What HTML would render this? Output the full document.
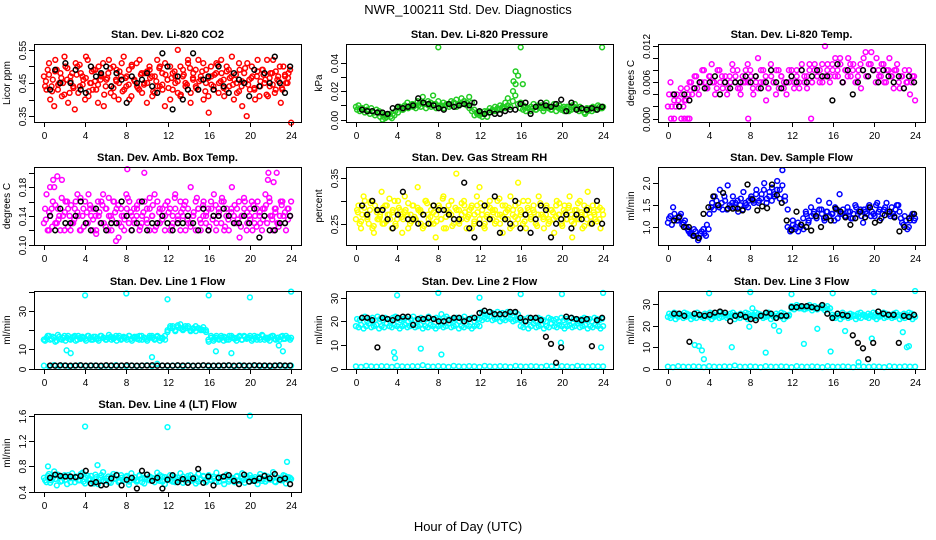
<!DOCTYPE html>
<html><head><meta charset="utf-8">
<style>
html,body{margin:0;padding:0;background:#fff;}
svg{display:block;font-family:"Liberation Sans",sans-serif;}
</style></head>
<body>
<svg id="chart" width="936" height="540" viewBox="0 0 936 540" xmlns="http://www.w3.org/2000/svg">
<rect width="936" height="540" fill="#fff"/>
<text x="468" y="14" text-anchor="middle" font-size="13">NWR_100211  Std. Dev. Diagnostics</text>
<text x="468" y="531" text-anchor="middle" font-size="13">Hour of Day (UTC)</text>
<g id="panels"></g>
</svg>
<script>
// ---------- data ----------
const xTicks = [0,4,8,12,16,20,24];

const co2Red = [0.47,0.43,0.51,0.44,0.38,0.49,0.45,0.41,0.53,0.46,0.42,0.48,0.37,0.50,0.44,0.47,0.40,0.52,0.45,0.43,0.49,0.39,0.46,0.51,0.44,0.48,0.42,0.50,0.46,0.40,0.47,0.53,0.44,0.49,0.41,0.46,0.51,0.43,0.48,0.45,0.39,0.50,0.47,0.42,0.52,0.44,0.48,0.38,0.46,0.50,0.43,0.47,0.55,0.41,0.49,0.45,0.51,0.42,0.48,0.44,0.52,0.46,0.40,0.49,0.36,0.47,0.43,0.51,0.45,0.48,0.41,0.50,0.44,0.53,0.46,0.42,0.49,0.38,0.45,0.51,0.43,0.47,0.40,0.52,0.44,0.49,0.46,0.41,0.48,0.52,0.43,0.47,0.39,0.50,0.45,0.48,0.33];
const co2Red2 = [0.44,0.49,0.40,0.46,0.52,0.43,0.48,0.45,0.50,0.39,0.47,0.44,0.51,0.42,0.48,0.46,0.53,0.41,0.45,0.49,0.43,0.50,0.47,0.38,0.46,0.52,0.44,0.41,0.49,0.45,0.51,0.43,0.47,0.40,0.50,0.46,0.44,0.52,0.42,0.48,0.45,0.49,0.41,0.47,0.44,0.50,0.43,0.51,0.46,0.40,0.48,0.45,0.42,0.50,0.47,0.44,0.52,0.39,0.46,0.49,0.43,0.47,0.51,0.45,0.41,0.50,0.44,0.48,0.42,0.52,0.46,0.43,0.49,0.47,0.40,0.45,0.51,0.44,0.48,0.35,0.46,0.50,0.43,0.47,0.41,0.49,0.45,0.52,0.44,0.48,0.42,0.46,0.50,0.43,0.47,0.45,0.49];
const co2Red3 = [0.455,0.475,0.425,0.485,0.445,0.465,0.415,0.495,0.455,0.435,0.475,0.505,0.445,0.465,0.425,0.485,0.455,0.445,0.475,0.415,0.465,0.495,0.435,0.455,0.485,0.425,0.465,0.445,0.505,0.455,0.435,0.475,0.445,0.485,0.465,0.425,0.455,0.495,0.445,0.475,0.435,0.465,0.485,0.455,0.415,0.475,0.445,0.495,0.465,0.435,0.455,0.485,0.425,0.465,0.445,0.475,0.505,0.455,0.435,0.485,0.465,0.445,0.475,0.425,0.455,0.495,0.445,0.465,0.435,0.485,0.455,0.475,0.415,0.465,0.445,0.485,0.455,0.435,0.475,0.465];
const co2Black = [0.43,0.49,0.45,0.51,0.45,0.49,0.43,0.42,0.50,0.47,0.48,0.50,0.44,0.48,0.46,0.39,0.47,0.45,0.46,0.48,0.44,0.42,0.54,0.50,0.37,0.47,0.40,0.43,0.54,0.43,0.46,0.47,0.43,0.50,0.44,0.42,0.48,0.46,0.45,0.41,0.49,0.44,0.48,0.45,0.53,0.45,0.42,0.50];

const presGreen = [0.009,0.010,0.008,0.007,0.009,0.006,0.008,0.005,0.007,0.006,0.004,0.003,0.002,0.004,0.001,0.003,0.008,0.009,0.007,0.010,0.012,0.009,0.011,0.010,0.013,0.012,0.016,0.011,0.013,0.012,0.017,0.011,0.013,0.009,0.012,0.010,0.011,0.013,0.012,0.014,0.011,0.015,0.013,0.012,0.016,0.012,0.007,0.005,0.003,0.004,0.006,0.002,0.008,0.006,0.009,0.007,0.010,0.008,0.012,0.015,0.009,0.020,0.025,0.031,0.012,0.010,0.006,0.008,0.009,0.011,0.007,0.009,0.010,0.008,0.012,0.009,0.007,0.011,0.009,0.010,0.008,0.006,0.009,0.007,0.010,0.011,0.008,0.009,0.007,0.004,0.006,0.008,0.009,0.007,0.010,0.008,0.009];
const presGreen2 = [0.007,0.006,0.008,0.005,0.007,0.004,0.006,0.003,0.005,0.002,0.000,0.001,0.003,0.002,0.004,0.006,0.005,0.008,0.007,0.009,0.008,0.010,0.009,0.008,0.010,0.009,0.011,0.008,0.010,0.009,0.011,0.008,0.009,0.010,0.008,0.011,0.009,0.010,0.012,0.009,0.010,0.011,0.013,0.010,0.008,0.006,0.003,0.004,0.005,0.002,0.004,0.006,0.005,0.007,0.006,0.008,0.007,0.009,0.008,0.010,0.009,0.013,0.017,0.011,0.008,0.007,0.009,0.008,0.006,0.008,0.007,0.010,0.008,0.006,0.009,0.008,0.007,0.009,0.006,0.008,0.007,0.009,0.008,0.006,0.007,0.009,0.008,0.006,0.007,0.005,0.008,0.007,0.006,0.008,0.007,0.009,0.008];
const presOutT = [8,16,23.9,15.3,15.5,16.2];
const presOutV = [0.051,0.051,0.051,0.027,0.034,0.025];
const presBlack = [0.007,0.006,0.006,0.005,0.005,0.004,0.008,0.009,0.008,0.009,0.010,0.015,0.012,0.011,0.010,0.008,0.007,0.011,0.009,0.010,0.011,0.010,0.012,0.006,0.004,0.005,0.004,0.004,0.006,0.007,0.007,0.011,0.012,0.004,0.009,0.012,0.010,0.009,0.011,0.014,0.006,0.012,0.007,0.008,0.007,0.008,0.007,0.009];

const tempMag = [0.002,0.006,0.004,0.002,0.003,0.005,0.002,0.003,0.004,0.006,0.005,0.007,0.004,0.006,0.008,0.005,0.007,0.009,0.006,0.005,0.008,0.007,0.006,0.004,0.007,0.009,0.006,0.008,0.005,0.007,0.006,0.009,0.008,0.005,0.007,0.010,0.006,0.008,0.007,0.005,0.009,0.006,0.004,0.008,0.007,0.005,0.006,0.008,0.007,0.005,0.008,0.006,0.009,0.007,0.005,0.008,0.006,0.009,0.007,0.008,0.006,0.012,0.009,0.007,0.008,0.010,0.007,0.009,0.006,0.008,0.010,0.007,0.009,0.006,0.008,0.005,0.010,0.007,0.009,0.011,0.008,0.010,0.007,0.009,0.006,0.008,0.010,0.007,0.008,0.009,0.005,0.007,0.008,0.006,0.004,0.007,0.003];
const tempMag2 = [0.004,0.002,0.003,0.004,0.002,0.004,0.003,0.005,0.006,0.004,0.007,0.005,0.006,0.008,0.006,0.005,0.007,0.006,0.004,0.008,0.006,0.005,0.007,0.005,0.006,0.008,0.007,0.005,0.004,0.006,0.008,0.006,0.007,0.004,0.006,0.005,0.008,0.006,0.003,0.005,0.007,0.006,0.008,0.005,0.007,0.006,0.004,0.006,0.008,0.006,0.007,0.005,0.008,0.006,0.007,0.009,0.006,0.008,0.007,0.006,0.009,0.007,0.008,0.006,0.009,0.007,0.008,0.010,0.006,0.008,0.007,0.009,0.008,0.006,0.007,0.009,0.008,0.011,0.007,0.009,0.008,0.006,0.008,0.007,0.009,0.006,0.008,0.007,0.005,0.008,0.006,0.007,0.005,0.006,0.008,0.006,0.007];
const tempOutT = [0.3,0.6,1.3,1.6,1.9,2.1,7.8,13.9];
const tempOutV = [0,0,0,0,0,0,0,0];
const tempBlack = [0.004,0.002,0.004,0.003,0.005,0.006,0.005,0.006,0.007,0.004,0.006,0.005,0.006,0.006,0.007,0.006,0.007,0.005,0.006,0.008,0.006,0.005,0.006,0.007,0.006,0.008,0.006,0.007,0.008,0.007,0.007,0.003,0.009,0.006,0.008,0.004,0.006,0.008,0.007,0.008,0.006,0.008,0.007,0.006,0.007,0.005,0.007,0.006];

const ambMag = [0.13,0.17,0.12,0.15,0.18,0.13,0.14,0.19,0.12,0.16,0.14,0.13,0.15,0.17,0.12,0.14,0.16,0.13,0.15,0.12,0.14,0.16,0.13,0.17,0.15,0.12,0.14,0.16,0.13,0.11,0.15,0.14,0.17,0.13,0.12,0.15,0.14,0.16,0.13,0.20,0.15,0.12,0.14,0.17,0.13,0.15,0.14,0.12,0.16,0.15,0.13,0.17,0.14,0.12,0.15,0.16,0.13,0.18,0.14,0.12,0.15,0.13,0.16,0.14,0.12,0.15,0.17,0.13,0.14,0.16,0.12,0.15,0.14,0.18,0.13,0.15,0.11,0.14,0.16,0.13,0.15,0.12,0.14,0.16,0.13,0.15,0.17,0.19,0.14,0.12,0.15,0.13,0.16,0.14,0.12,0.15,0.16];
const ambMag2 = [0.15,0.12,0.14,0.16,0.13,0.15,0.12,0.14,0.16,0.15,0.12,0.13,0.16,0.14,0.12,0.15,0.13,0.17,0.14,0.15,0.12,0.14,0.16,0.13,0.15,0.14,0.12,0.16,0.15,0.13,0.14,0.12,0.15,0.16,0.14,0.13,0.15,0.12,0.14,0.16,0.13,0.15,0.14,0.12,0.16,0.13,0.15,0.14,0.16,0.12,0.14,0.15,0.13,0.16,0.14,0.12,0.15,0.13,0.14,0.16,0.15,0.12,0.14,0.13,0.15,0.16,0.14,0.12,0.15,0.13,0.16,0.14,0.12,0.15,0.14,0.13,0.16,0.14,0.15,0.12,0.14,0.16,0.13,0.15,0.14,0.12,0.15,0.13,0.16,0.14,0.15,0.13,0.14,0.16,0.13,0.15,0.14];
const ambMag3 = [0.135,0.145,0.125,0.155,0.135,0.165,0.145,0.125,0.155,0.135,0.145,0.165,0.125,0.145,0.155,0.135,0.115,0.145,0.155,0.125,0.165,0.135,0.145,0.155,0.125,0.135,0.165,0.145,0.135,0.155,0.125,0.145,0.135,0.165,0.155,0.125,0.145,0.135,0.155,0.145,0.125,0.165,0.135,0.145,0.155,0.135,0.125,0.145,0.165,0.135,0.155,0.145,0.125,0.135,0.155,0.145,0.165,0.125,0.135,0.145,0.155,0.135,0.125,0.165,0.145,0.135,0.155,0.125,0.145,0.135,0.155,0.165,0.135,0.145,0.125,0.155,0.145,0.135];
const ambOutT = [0.6,0.9,1.3,7,8.1,21.8,22.3,22.6];
const ambOutV = [0.18,0.19,0.195,0.105,0.205,0.2,0.187,0.2];
const ambBlack = [0.14,0.12,0.15,0.13,0.13,0.14,0.16,0.13,0.12,0.15,0.13,0.12,0.13,0.13,0.16,0.14,0.12,0.13,0.16,0.12,0.13,0.13,0.14,0.13,0.12,0.13,0.13,0.14,0.13,0.12,0.15,0.12,0.14,0.14,0.15,0.14,0.13,0.13,0.14,0.13,0.15,0.11,0.14,0.12,0.12,0.13,0.13,0.14];

const rhYellow = [0.26,0.29,0.24,0.31,0.27,0.25,0.30,0.23,0.28,0.26,0.32,0.25,0.29,0.27,0.24,0.30,0.26,0.28,0.23,0.31,0.27,0.25,0.29,0.26,0.33,0.28,0.24,0.30,0.27,0.25,0.29,0.22,0.28,0.26,0.31,0.24,0.29,0.27,0.25,0.36,0.28,0.26,0.30,0.24,0.27,0.29,0.25,0.31,0.33,0.27,0.24,0.29,0.26,0.28,0.25,0.30,0.27,0.23,0.29,0.26,0.31,0.28,0.25,0.34,0.27,0.30,0.24,0.28,0.26,0.29,0.25,0.31,0.27,0.24,0.29,0.26,0.28,0.23,0.30,0.27,0.25,0.29,0.26,0.31,0.22,0.28,0.26,0.30,0.24,0.27,0.32,0.25,0.29,0.26,0.28,0.24,0.27];
const rhYellow2 = [0.28,0.25,0.27,0.30,0.26,0.28,0.24,0.29,0.26,0.27,0.25,0.29,0.27,0.26,0.28,0.25,0.30,0.27,0.26,0.28,0.24,0.27,0.29,0.26,0.28,0.25,0.27,0.30,0.26,0.28,0.25,0.27,0.29,0.26,0.24,0.28,0.27,0.30,0.26,0.28,0.25,0.27,0.29,0.26,0.28,0.24,0.27,0.29,0.26,0.28,0.25,0.27,0.30,0.26,0.28,0.27,0.25,0.29,0.26,0.28,0.24,0.27,0.29,0.26,0.28,0.25,0.27,0.30,0.26,0.28,0.25,0.27,0.29,0.26,0.27,0.25,0.28,0.26,0.29,0.27,0.25,0.28,0.26,0.29,0.27,0.25,0.28,0.26,0.27,0.29,0.26,0.28,0.25,0.27,0.29,0.26,0.28];
const rhYellow3 = [0.275,0.255,0.285,0.265,0.295,0.245,0.275,0.265,0.285,0.255,0.305,0.275,0.245,0.285,0.265,0.275,0.295,0.255,0.265,0.285,0.275,0.245,0.295,0.265,0.275,0.255,0.285,0.305,0.265,0.275,0.245,0.285,0.255,0.295,0.275,0.265,0.285,0.255,0.275,0.295,0.245,0.265,0.285,0.275,0.255,0.305,0.265,0.275,0.285,0.245,0.265,0.295,0.275,0.255,0.285,0.265,0.275,0.245,0.295,0.265,0.285,0.255,0.275,0.265,0.295,0.245,0.275,0.285,0.255,0.265,0.295,0.275,0.245,0.285,0.265,0.275,0.255,0.285];
const rhBlack = [0.29,0.27,0.30,0.28,0.28,0.26,0.24,0.27,0.32,0.26,0.26,0.25,0.27,0.25,0.29,0.28,0.28,0.27,0.26,0.26,0.34,0.24,0.22,0.25,0.29,0.26,0.31,0.23,0.26,0.25,0.30,0.24,0.27,0.23,0.26,0.29,0.28,0.22,0.25,0.26,0.27,0.24,0.27,0.26,0.28,0.25,0.30,0.25];

const flowBlue = [1.10,1.25,1.45,1.20,1.15,1.30,1.10,1.00,0.90,0.85,0.95,0.80,0.75,0.90,0.85,1.05,1.30,1.55,1.70,1.50,1.85,1.40,1.60,1.95,1.45,1.70,1.55,1.35,1.65,1.80,1.50,1.60,1.70,1.55,1.85,1.60,1.75,2.00,1.65,1.80,1.90,1.70,2.05,1.85,2.30,1.60,1.00,0.90,1.15,0.95,1.10,1.00,1.20,1.35,1.10,1.45,1.30,1.25,1.60,1.40,1.20,1.35,1.55,1.30,1.15,1.40,1.75,1.30,1.25,1.45,1.35,1.20,1.50,1.30,1.40,1.10,1.35,1.45,1.25,1.30,1.50,1.35,1.20,1.40,1.55,1.30,1.45,1.25,1.50,1.35,1.10,1.25,0.95,1.15,1.30,1.20];
const flowBlue2 = [1.20,1.05,1.30,1.15,1.25,1.05,1.15,0.95,0.85,0.80,0.90,0.70,0.85,0.95,0.80,0.95,1.45,1.40,1.60,1.45,1.55,1.70,1.40,1.50,1.55,1.45,1.60,1.50,1.40,1.55,1.45,1.65,1.60,1.75,1.55,1.65,1.85,1.55,1.70,1.60,1.75,1.85,1.65,1.95,1.70,1.40,0.95,1.05,1.00,0.90,1.05,0.95,1.30,1.15,1.25,1.35,1.20,1.40,1.30,1.15,1.35,1.25,1.30,1.45,1.20,1.30,1.40,1.25,1.35,1.20,1.30,1.45,1.35,1.25,1.40,1.30,1.50,1.35,1.25,1.55,1.40,1.30,1.45,1.35,1.25,1.30,1.40,1.50,1.20,1.05,1.15,1.00,1.25,1.15];
const flowBlack = [1.15,1.22,1.0,1.0,0.8,0.75,1.3,1.45,1.7,1.5,1.78,1.42,1.42,1.42,1.38,1.97,1.63,1.38,1.47,1.43,1.97,1.73,1.55,1.15,0.93,1.35,1.05,1.0,0.92,1.25,1.0,1.22,1.15,1.42,1.35,1.22,1.05,1.2,1.35,1.22,1.45,1.1,1.15,1.27,1.35,1.22,0.9,1.0,1.2,1.3];

const l1Cyan = [15,16,17,15.5,16,14.5,16.5,15,17,16,15.5,16,17,15,16,16.5,15.5,17,16,15,16.5,15.5,17,16,15,16,16.5,15.5,17,16,15,16.5,16,17,15.5,16,16.5,15,17,16,15.5,16,17,15,16.5,16,15.5,17,19,21,22,20,21.5,23,20.5,21,22,20,21,19.5,21,20.5,20,19,14,16,15.5,17,15,16,16.5,15,17,16,15.5,16,17,15,16.5,16,17,15.5,16,16.5,15,17,16,15.5,16.5,17,15,16,16.5,15.5,17,16,16];
const l1Cyan2 = [14.5,17,15,16.5,14,17.5,15.5,16,14.5,17,15,16.5,14.5,17,15.5,16,14.5,17,15,16.5,15.5,14.5,17,16,15,17.5,15,16,14.5,17,15.5,16,15,17,14.5,16.5,15.5,17,15,16,14.5,17,16,15.5,17,14.5,16,15,20,22,21,19.5,22.5,21,20,22,21,19.5,20.5,22,21,20,21.5,20,15,17,14.5,16,15.5,17,14.5,16,15,17,16,14.5,16.5,15,17,15.5,16,14.5,17,15,16,17.5,15,16,14.5,17,15.5,16,15,17,15.5,16,15];
const l1Low = [1.5,1.2,1.8,1.4,1.6,1.3,1.5,1.7,1.4,1.5,1.6,1.3,1.5,1.4,1.8,1.5,1.3,1.6,1.4,1.5,1.7,1.3,2.5,1.5,1.4,1.6,1.5,1.3,1.7,1.4,1.5,1.6,1.3,1.5,1.4,1.6,1.5,1.3,1.7,1.4,1.5,1.6,1.4,1.5,1.3,1.6,1.5,1.4,1.5];
const l1OutT = [4,8,12,16,20,24,2.2,2.6,10.5,16.7,18.2,22.8,23.2,0];
const l1OutV = [38,39,36,38,37,40,9.5,8,6,9,8,12,9,15];
const l1Black = [1.6,1.5,1.7,1.6,1.5,1.6,1.7,1.5,1.6,1.6,1.5,1.7,1.6,1.5,1.6,1.7,1.6,1.5,1.6,1.6,1.7,1.5,1.6,1.6,1.5,1.7,1.6,1.6,1.5,1.6,1.7,1.6,1.5,1.6,1.6,1.7,1.5,1.6,1.6,1.5,1.7,1.6,1.6,1.5,1.6,1.7,1.6,1.6];

const l2Cyan = [18,17.5,18.5,17,18,19,17.5,18,18.5,17,18,17.5,19,18,17.5,18.5,18,17,18,18.5,17.5,18,19,17.5,18,18.5,17,18,17.5,18.5,18,17,18,18.5,17.5,18,19,17.5,18,18.5,17,18,17.5,18.5,18,17,18,18.5,21,20.5,21.5,21,22,20.5,21,21.5,20,21,20.5,21.5,21,20,20.5,21,18,17.5,18.5,17,18,19,17.5,18,18.5,17,18,17.5,19,18,17.5,18.5,18,17,18,18.5,17.5,18,19,17.5,18,18.5,17,18,17.5,18.5,18,17,18];
const l2Cyan2 = [21,20.5,21.5,22,20,21,21.5,20.5,22,21,20.5,21.5,21,20,21.5,22,21,20.5,21,21.5,20,21,22,20.5,21,21.5,20,21,22,20.5,21,21.5,21,20,21.5,22,21,20.5,21,21.5,20,21,22,20.5,21,21.5,20,21,23.5,24,23,22.5,24,23.5,23,24,22.5,23.5,23,24,23,22.5,23.5,23,20.5,21,20,21.5,20.5,21,20,21.5,21,20.5,20,21.5,21,20.5,21,20,21.5,20.5,21,20,21.5,21,20.5,20,21,21.5,20.5,21,20,21.5,21,20.5,21];
const l2Low = [1,0.8,1.2,1,0.9,1.1,1,0.8,1.2,1,0.9,1.1,1,1.5,1,0.9,1.1,1,0.8,1.2,1,0.9,1.1,1,0.8,1.2,1,0.9,1.1,1,0.8,1.2,1,0.9,1.1,1,0.8,1.2,1,0.9,1.1,1,0.8,1.2,1,0.9,1.1,1,1];
const l2OutT = [4,8,12,16,20,24,3.7,3.8,6.3,8.3,8.3,19.9,23.8,12];
const l2OutV = [31,32,30,31.5,31.5,32,7,4.5,8.5,6,23,11,9,18];
const l2Black = [21.5,21.5,20.5,9,21.5,21,20.5,21.5,22,22,18.5,21,21,21.5,21,20,20,20.5,21.5,21.5,20,21,21.5,23.5,24.5,24,23,23,23,24,24,21.5,20,21.5,21.5,20.5,13.5,10.5,2.5,9,22,21.5,21,20.5,21,9.5,20.5,21.5];

const l3Cyan = [24,23.5,24.5,23,24,25,23.5,24,24.5,23,24,23.5,25,24,23.5,24.5,24,23,24,24.5,23.5,24,25,23.5,24,24.5,23,24,23.5,24.5,24,23,24,24.5,23.5,24,25,23.5,24,24.5,23,24,23.5,24.5,24,23,24,24.5,28,27.5,28.5,28,29,27.5,28,28.5,27,28,27.5,28.5,28,27,27.5,28,24,23.5,24.5,23,24,25,23.5,24,24.5,23,24,23.5,25,24,23.5,24.5,24,23,24,24.5,23.5,24,25,23.5,24,24.5,23,24,23.5,24.5,24,23,24];
const l3Cyan2 = [25.5,25,26,25.5,24.5,25,26,25.5,25,24.5,25.5,26,25,24.5,25.5,25,26,25.5,24.5,25,26,25.5,25,24.5,25.5,26,25,24.5,25.5,25,26,25.5,24.5,25,26,25.5,25,24.5,25.5,26,25,24.5,25.5,25,26,25.5,24.5,25,29,28.5,29.5,29,28,28.5,29,29.5,28.5,29,28,28.5,29,28.5,29,28,25,24.5,25.5,25,26,24.5,25,25.5,25,24.5,25.5,26,25,24.5,25.5,25,26,25.5,24.5,25,26,25.5,25,24.5,25.5,26,25,24.5,25.5,25,26,25.5,25];
const l3Low = [1,0.8,1.2,1,0.9,1.1,1,0.8,1.2,1,0.9,1.1,1,1.5,1,0.9,1.1,1,0.8,1.2,1,0.9,1.1,1,0.8,1.2,1,0.9,1.1,1,0.8,1.2,1,0.9,1.1,1,0.8,1.2,1,0.9,1.1,1,0.8,1.2,1,0.9,1.1,1,1];
const l3OutT = [4,8,12,16,20,24,2.6,3,3.3,3.5,6.2,7.9,8.2,9.5,10.3,10.8,13.2,14.5,15.8,17.2,18.5,19.8,22.8,23.2,23.4];
const l3OutV = [35,35.5,34.5,35,35.5,36,11,10.5,8.5,4.5,10,19.5,28,7.5,20,17.5,11.5,18.5,8,17.5,3,14,17,10,10.5];
const l3Black = [25.5,25.5,24.5,12.5,25.5,25,24.5,25,26,26.5,26,22,24.5,25,24,23,22.5,24.5,26,25.5,23.5,24.5,24.5,28.5,28.5,29,29,28.5,28,29.5,25.5,23.5,25.5,25,24.5,15.5,12,9.5,4.5,12,26.5,25.5,25,25,12,24.5,24,25];

const l4Cyan = [0.62,0.55,0.68,0.58,0.72,0.50,0.64,0.57,0.66,0.52,0.61,0.69,0.55,0.63,0.58,0.70,0.53,0.65,0.60,0.56,0.67,0.52,0.62,0.71,0.57,0.64,0.54,0.68,0.60,0.55,0.66,0.58,0.63,0.51,0.69,0.59,0.56,0.65,0.61,0.53,0.67,0.58,0.62,0.55,0.70,0.57,0.64,0.52,0.60,0.66,0.56,0.63,0.58,0.69,0.54,0.61,0.65,0.57,0.62,0.53,0.68,0.59,0.64,0.55,0.66,0.58,0.61,0.70,0.56,0.63,0.52,0.67,0.59,0.62,0.55,0.65,0.58,0.69,0.54,0.61,0.66,0.57,0.63,0.52,0.68,0.60,0.56,0.64,0.59,0.71,0.55,0.62,0.58,0.66,0.53,0.63,0.60];
const l4Cyan2 = [0.58,0.65,0.54,0.62,0.60,0.67,0.56,0.63,0.59,0.66,0.55,0.61,0.64,0.58,0.68,0.56,0.62,0.60,0.65,0.53,0.63,0.59,0.66,0.57,0.61,0.55,0.64,0.60,0.67,0.57,0.62,0.59,0.65,0.56,0.61,0.63,0.58,0.66,0.55,0.62,0.60,0.64,0.57,0.61,0.59,0.66,0.56,0.63,0.60,0.58,0.65,0.55,0.62,0.59,0.64,0.57,0.61,0.66,0.58,0.63,0.56,0.60,0.65,0.57,0.62,0.59,0.64,0.55,0.61,0.63,0.58,0.66,0.56,0.62,0.60,0.64,0.57,0.61,0.59,0.65,0.56,0.62,0.60,0.58,0.63,0.57,0.66,0.59,0.61,0.64,0.56,0.62,0.60,0.58,0.65,0.59,0.62];
const l4OutT = [4,12,20,23.6,0.4,5.2];
const l4OutV = [1.43,1.42,1.6,0.87,0.8,0.82];
const l4Black = [0.62,0.67,0.65,0.64,0.64,0.63,0.65,0.73,0.53,0.55,0.50,0.51,0.61,0.66,0.50,0.59,0.62,0.45,0.73,0.67,0.57,0.62,0.45,0.59,0.66,0.55,0.60,0.54,0.61,0.76,0.54,0.64,0.50,0.62,0.64,0.66,0.57,0.52,0.67,0.56,0.57,0.61,0.65,0.61,0.68,0.59,0.61,0.52];

const co2Ticks=[0.35,0.40,0.45,0.50,0.55], co2Labels=["0.35","","0.45","","0.55"];
const presTicks=[0,0.01,0.02,0.03,0.04], presLabels=["0.00","","0.02","","0.04"];
const tempTicks=[0,0.002,0.004,0.006,0.008,0.010,0.012], tempLabels=["0.000","","","0.006","","","0.012"];
const ambTicks=[0.10,0.12,0.14,0.16,0.18,0.20], ambLabels=["0.10","","0.14","","0.18",""];
const rhTicks=[0.25,0.30,0.35], rhLabels=["0.25","","0.35"];
const flowTicks=[1.0,1.5,2.0], flowLabels=["1.0","1.5","2.0"];
const l1Ticks=[0,10,20,30,40], l1Labels=["0","10","","30",""];
const l2Ticks=[0,10,20,30], l2Labels=["0","10","20","30"];
const l3Ticks=[0,10,20,30], l3Labels=["0","10","20","30"];
const l4Ticks=[0.4,0.8,1.2,1.6], l4Labels=["0.4","0.8","1.2","1.6"];

// ---------- drawing ----------
const NS="http://www.w3.org/2000/svg";
const root=document.getElementById('panels');
const colL=[34,346,658], rowT=[44,167,291,414], BW=267, BH=78;
function mk(tag,attrs,parent){const e=document.createElementNS(NS,tag);for(const k in attrs)e.setAttribute(k,attrs[k]);parent.appendChild(e);return e;}

function spread(vals,t0,t1){return vals.map((v,i)=>[t0+(t1-t0)*i/(vals.length-1),v]);}
function pairs(ts,vs){return ts.map((t,i)=>[t,vs[i]]);}

function panel(id,col,row,title,ylab,ylim,ticks,labels,series){
  const g=mk('g',{},root);
  
  
  const L=colL[col],T=rowT[row];
  const xs=h=>L+(h+0.96)/25.92*BW;
  const ys=v=>T+BH-(v-ylim[0])/(ylim[1]-ylim[0])*BH;
  const tt=mk('text',{x:L+BW/2,y:T-6,'text-anchor':'middle','font-size':'11','font-weight':'bold'},g);
  
  
  tt.textContent=title;
  const yl=mk('text',{x:0,y:0,'text-anchor':'middle','font-size':'10',transform:`translate(${L-24},${T+BH/2}) rotate(-90)`},g);
  
  
  yl.textContent=ylab;
  const pts=mk('g',{fill:'none'},g);
  
  
  series.forEach(s=>{
    s.pts.forEach(p=>{
      const c=mk('circle',{cx:xs(p[0]).toFixed(1),cy:ys(p[1]).toFixed(1),r:2.4,stroke:s.color,'stroke-width':1.5},pts);
      
      
    });
  });
  const box=mk('rect',{x:L+0.5,y:T+0.5,width:BW,height:BH,fill:'none',stroke:'#000','stroke-width':1},g);
  
  
  xTicks.forEach(h=>{
    const x=Math.round(xs(h))+0.5;
    mk('line',{x1:x,x2:x,y1:T+BH,y2:T+BH+5,stroke:'#000'},g);
    const t=mk('text',{x:x,y:T+BH+17,'text-anchor':'middle','font-size':'10'},g);
    
    
    t.textContent=h;
  });
  ticks.forEach((v,i)=>{
    const y=Math.round(ys(v))+0.5;
    mk('line',{x1:L-5,x2:L,y1:y,y2:y,stroke:'#000'},g);
    if(labels[i]){
      const t=mk('text',{x:0,y:0,'text-anchor':'middle','font-size':'10',transform:`translate(${L-8},${y}) rotate(-90)`},g);
      
      
      t.textContent=labels[i];
    }
  });
}

const RED='#ff0000',GRN='#22cc22',MAG='#ff00ff',YEL='#ffff00',BLU='#0000ff',CYA='#00ffff',BLK='#000000';

panel('co2',0,0,'Stan. Dev. Li-820 CO2','Licor ppm',[0.332,0.568],co2Ticks,co2Labels,[
 {color:RED,pts:spread(co2Red,0,24)},{color:RED,pts:spread(co2Red2,0.12,23.9)},{color:RED,pts:spread(co2Red3,0.2,23.7)},{color:BLK,pts:spread(co2Black,0.6,23.9)}]);
panel('pressure',1,0,'Stan. Dev. Li-820 Pressure','kPa',[-0.0017,0.0533],presTicks,presLabels,[
 {color:GRN,pts:spread(presGreen,0,24)},{color:GRN,pts:spread(presGreen2,0.12,23.9)},{color:GRN,pts:pairs(presOutT,presOutV)},{color:BLK,pts:spread(presBlack,0.6,23.9)}]);
panel('temp',2,0,'Stan. Dev. Li-820 Temp.','degrees C',[-0.00057,0.01234],tempTicks,tempLabels,[
 {color:MAG,pts:spread(tempMag,0,24)},{color:MAG,pts:spread(tempMag2,0.12,23.9)},{color:MAG,pts:pairs(tempOutT,tempOutV)},{color:BLK,pts:spread(tempBlack,0.6,23.9)}]);
panel('ambbox',0,1,'Stan. Dev. Amb. Box Temp.','degrees C',[0.0995,0.208],ambTicks,ambLabels,[
 {color:MAG,pts:spread(ambMag,0,24)},{color:MAG,pts:spread(ambMag2,0.12,23.9)},{color:MAG,pts:spread(ambMag3,0.2,23.7)},{color:MAG,pts:pairs(ambOutT,ambOutV)},{color:BLK,pts:spread(ambBlack,0.6,23.9)}]);
panel('rh',1,1,'Stan. Dev. Gas Stream RH','percent',[0.2033,0.3744],rhTicks,rhLabels,[
 {color:YEL,pts:spread(rhYellow,0,24)},{color:YEL,pts:spread(rhYellow2,0.12,23.9)},{color:YEL,pts:spread(rhYellow3,0.2,23.7)},{color:BLK,pts:spread(rhBlack,0.6,23.9)}]);
panel('sampleflow',2,1,'Stan. Dev. Sample Flow','ml/min',[0.59,2.37],flowTicks,flowLabels,[
 {color:BLU,pts:spread(flowBlue,0,24)},{color:BLU,pts:spread(flowBlue2,0.12,23.9)},{color:BLK,pts:spread(flowBlack,0.6,23.9)}]);
panel('line1',0,2,'Stan. Dev. Line 1 Flow','ml/min',[-0.2,40.3],l1Ticks,l1Labels,[
 {color:CYA,pts:spread(l1Cyan,0,24)},{color:CYA,pts:spread(l1Cyan2,0.12,23.9)},{color:CYA,pts:spread(l1Low,0,24)},{color:CYA,pts:pairs(l1OutT,l1OutV)},{color:BLK,pts:spread(l1Black,0.6,23.9)}]);
panel('line2',1,2,'Stan. Dev. Line 2 Flow','ml/min',[-0.1,32.8],l2Ticks,l2Labels,[
 {color:CYA,pts:spread(l2Cyan,0,24)},{color:CYA,pts:spread(l2Cyan2,0.12,23.9)},{color:CYA,pts:spread(l2Low,0,24)},{color:CYA,pts:pairs(l2OutT,l2OutV)},{color:BLK,pts:spread(l2Black,0.6,23.9)}]);
panel('line3',2,2,'Stan. Dev. Line 3 Flow','ml/min',[-0.1,36],l3Ticks,l3Labels,[
 {color:CYA,pts:spread(l3Cyan,0,24)},{color:CYA,pts:spread(l3Cyan2,0.12,23.9)},{color:CYA,pts:spread(l3Low,0,24)},{color:CYA,pts:pairs(l3OutT,l3OutV)},{color:BLK,pts:spread(l3Black,0.6,23.9)}]);
panel('line4',0,3,'Stan. Dev. Line 4 (LT) Flow','ml/min',[0.395,1.627],l4Ticks,l4Labels,[
 {color:CYA,pts:spread(l4Cyan,0,24)},{color:CYA,pts:spread(l4Cyan2,0.12,23.9)},{color:CYA,pts:pairs(l4OutT,l4OutV)},{color:BLK,pts:spread(l4Black,0.6,23.9)}]);
</script>
</body></html>
